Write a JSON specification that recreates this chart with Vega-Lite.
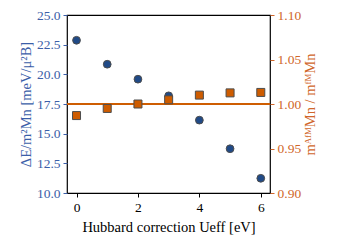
{
  "$schema": "https://vega.github.io/schema/vega-lite/v6.json",
  "width": 203,
  "height": 178,
  "autosize": "none",
  "padding": {"left": 67, "top": 15, "right": 67, "bottom": 54},
  "config": {
    "font": "Liberation Serif",
    "view": {"stroke": "#000000", "strokeWidth": 1.2},
    "axis": {"grid": false, "domain": false, "labelFont": "Liberation Serif", "titleFont": "Liberation Serif", "labelFontSize": 13.5, "titleFontSize": 14.5, "titleFontWeight": "normal", "tickSize": 4, "labelPadding": 3}
  },
  "data": {"values": [
    {"U": 0, "dE": 22.87, "ratio": 0.987},
    {"U": 1, "dE": 20.85, "ratio": 0.995},
    {"U": 2, "dE": 19.59, "ratio": 1.0},
    {"U": 3, "dE": 18.19, "ratio": 1.0047},
    {"U": 4, "dE": 16.14, "ratio": 1.010},
    {"U": 5, "dE": 13.73, "ratio": 1.0125},
    {"U": 6, "dE": 11.24, "ratio": 1.013}
  ]},
  "encoding": {
    "x": {"field": "U", "type": "quantitative", "scale": {"domain": [-0.31, 6.3], "nice": false, "zero": false},
      "axis": {"values": [0, 2, 4, 6], "title": "Hubbard correction Ueff [eV]", "labelColor": "#000000", "tickColor": "#000000", "titlePadding": 7}}
  },
  "layer": [
    {
      "mark": {"type": "point", "shape": "circle", "filled": true, "size": 60, "fill": "#204a87", "stroke": "#4d4d4d", "strokeWidth": 1, "opacity": 1},
      "encoding": {
        "y": {"field": "dE", "type": "quantitative", "scale": {"domain": [10, 25], "nice": false, "zero": false},
          "axis": {"orient": "left", "values": [10, 12.5, 15, 17.5, 20, 22.5, 25], "format": ".1f", "title": "ΔE/m²Mn [meV/μ²B]", "labelColor": "#3b5ea8", "tickColor": "#3b5ea8", "titleColor": "#3b5ea8", "titlePadding": 3}}
      }
    },
    {
      "layer": [
        {
          "mark": {"type": "rule", "color": "#ce5c00", "strokeWidth": 1.2},
          "encoding": {"y": {"datum": 1.0, "type": "quantitative"}, "x": {"datum": -0.31}, "x2": {"datum": 6.3}}
        },
        {
          "mark": {"type": "point", "shape": "square", "filled": true, "size": 64, "fill": "#ce5c00", "stroke": "#4d4d4d", "strokeWidth": 1, "opacity": 1},
          "encoding": {
            "y": {"field": "ratio", "type": "quantitative", "scale": {"domain": [0.9, 1.1], "nice": false, "zero": false},
              "axis": {"orient": "right", "values": [0.9, 0.95, 1.0, 1.05, 1.1], "format": ".2f", "title": "mᴬᶠᴹMn / mᶠᴹMn", "titleAngle": -90, "titleBaseline": "top", "labelColor": "#d0662a", "tickColor": "#d0662a", "titleColor": "#d0662a", "titlePadding": 3}}
          }
        }
      ]
    }
  ],
  "resolve": {"scale": {"y": "independent"}}
}
